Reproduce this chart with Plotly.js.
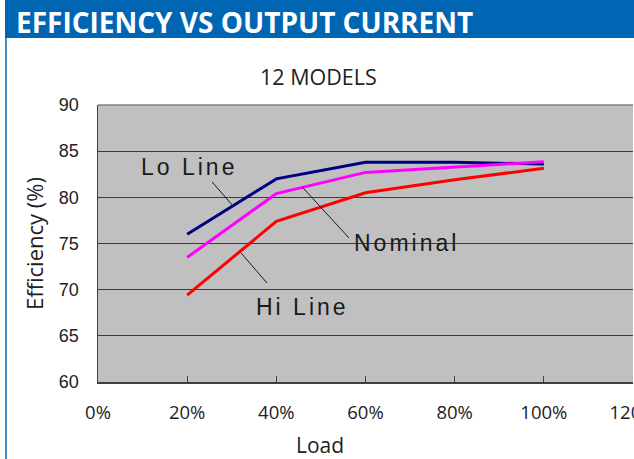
<!DOCTYPE html>
<html><head><meta charset="utf-8">
<script src="https://cdn.plot.ly/plotly-3.0.1.min.js"></script>
<style>html,body{margin:0;padding:0;background:#fff}#chart{width:634px;height:459px}</style>
</head><body><div id="chart"></div>
<script>
const loads = [20, 40, 60, 80, 100];
const loLine = [76.0, 82.0, 83.8, 83.8, 83.6];
const nominal = [73.5, 80.4, 82.7, 83.3, 83.85];
const hiLine = [69.4, 77.4, 80.5, 81.9, 83.15];
const xTickVals = [0, 20, 40, 60, 80, 100, 120];
const xTickText = ['0%', '20%', '40%', '60%', '80%', '100%', '120%'];
const yTickVals = [60, 65, 70, 75, 80, 85, 90];

const L = 98, R = 633, T = 105, B = 382;
const px = x => (x - L) / (R - L);
const py = y => (B - y) / (B - T);

const lineStyle = (c) => ({color: c, width: 3});
const traces = [
  {x: loads, y: loLine, mode: 'lines', line: lineStyle('#000080'), name: 'Lo Line'},
  {x: loads, y: nominal, mode: 'lines', line: lineStyle('#ff00ff'), name: 'Nominal'},
  {x: loads, y: hiLine, mode: 'lines', line: lineStyle('#ff0000'), name: 'Hi Line'}
];

const lblFont = {family: 'Liberation Sans, Arial, sans-serif', size: 23, color: '#1a1a1a'};
const sp = t => '<span style="letter-spacing:3px">' + t + '</span>';

const layout = {
  width: 634, height: 459,
  margin: {l: L, r: 634 - R, t: T, b: 459 - B},
  paper_bgcolor: '#ffffff', plot_bgcolor: '#c0c0c0',
  showlegend: false,
  xaxis: {range: [0, 120], tickvals: xTickVals, ticktext: xTickText, showgrid: false, zeroline: false,
    showline: true, linecolor: '#404040', linewidth: 1.5, ticks: 'inside', ticklen: 6, tickcolor: '#404040',
    ticklabelstandoff: 13, ticklabeloverflow: 'allow',
    tickfont: {family: 'Open Sans, sans-serif', size: 18.5, color: '#222'}, fixedrange: true},
  yaxis: {range: [60, 90], tickvals: yTickVals, showgrid: true, gridcolor: '#3c3c3c', gridwidth: 1, zeroline: false,
    showline: true, linecolor: '#404040', linewidth: 1.5, ticks: '', ticklen: 0, ticklabelstandoff: 14,
    tickfont: {family: 'Liberation Sans, Arial, sans-serif', size: 18, color: '#222'}, fixedrange: true},
  shapes: [
    {type: 'rect', xref: 'paper', yref: 'paper', x0: px(5), x1: px(640), y0: py(38), y1: py(-2), fillcolor: '#0066b3', line: {width: 0}, layer: 'above'},
    {type: 'line', xref: 'paper', yref: 'paper', x0: px(6), x1: px(6), y0: py(38), y1: py(470), line: {color: '#0066b3', width: 1.5}},
    {type: 'line', xref: 'paper', yref: 'paper', x0: 0, x1: 1, y0: 1, y1: 1, line: {color: '#808080', width: 1.5}},
    {type: 'line', x0: 25.6, y0: 81.66, x1: 30.1, y1: 79.17, line: {color: '#1a1a1a', width: 1}},
    {type: 'line', x0: 45.8, y0: 81.12, x1: 56.3, y1: 75.6, line: {color: '#1a1a1a', width: 1}},
    {type: 'line', x0: 32.1, y0: 73.97, x1: 37.9, y1: 70.72, line: {color: '#1a1a1a', width: 1}}
  ],
  annotations: [
    {text: '<b>EFFICIENCY VS OUTPUT CURRENT</b>', xref: 'paper', yref: 'paper', x: px(14), y: py(22), xanchor: 'left', yanchor: 'middle', showarrow: false,
      font: {family: 'Open Sans, sans-serif', size: 28, color: '#ffffff'}},
    {text: '12 MODELS', xref: 'paper', yref: 'paper', x: px(318), y: py(77), xanchor: 'center', yanchor: 'middle', showarrow: false,
      font: {family: 'Open Sans, sans-serif', size: 21.5, color: '#222'}},
    {text: 'Load', xref: 'paper', yref: 'paper', x: px(320), y: py(445), xanchor: 'center', yanchor: 'middle', showarrow: false,
      font: {family: 'Open Sans, sans-serif', size: 21, color: '#222'}},
    {text: 'Efficiency (%)', xref: 'paper', yref: 'paper', x: px(34), y: py(244), xanchor: 'center', yanchor: 'middle', textangle: -90, showarrow: false,
      font: {family: 'Open Sans, sans-serif', size: 22, color: '#222'}},
    {text: sp('Lo Line'), x: 20.4, y: 83.3, showarrow: false, xanchor: 'center', yanchor: 'middle', font: lblFont},
    {text: sp('Nominal'), x: 69.3, y: 75.05, showarrow: false, xanchor: 'center', yanchor: 'middle', font: lblFont},
    {text: sp('Hi Line'), x: 45.8, y: 68.1, showarrow: false, xanchor: 'center', yanchor: 'middle', font: lblFont}
  ]
};
Plotly.newPlot('chart', traces, layout, {displayModeBar: false, staticPlot: true});
</script></body></html>
